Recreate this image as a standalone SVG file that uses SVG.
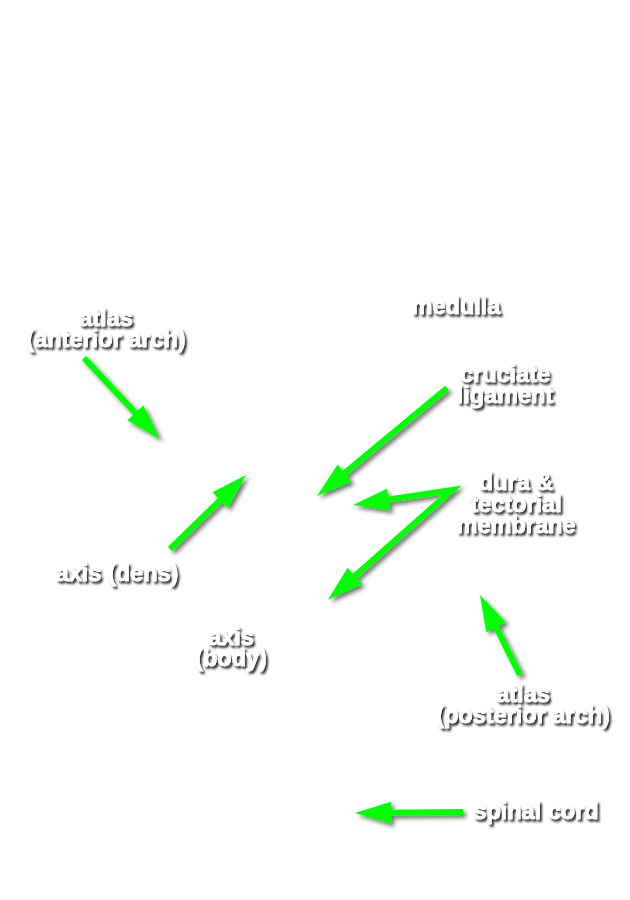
<svg xmlns="http://www.w3.org/2000/svg" width="630" height="900" viewBox="0 0 630 900">
<defs>
<style>
.lbl{font-family:"Liberation Sans",Arial,Helvetica,sans-serif;font-weight:bold;font-size:23.5px;fill:#ffffff;stroke:#ffffff;stroke-width:0.6;text-anchor:middle;filter:url(#tshadow)}
.arr{fill:none;stroke:#00ff00;stroke-width:6;stroke-linejoin:miter}
</style>
<filter id="tshadow" x="-20%" y="-40%" width="140%" height="180%">
<feDropShadow dx="2" dy="2.5" stdDeviation="1.3" flood-color="#000000" flood-opacity="0.85"/>
</filter>
<filter id="ashadow" x="-20%" y="-20%" width="140%" height="140%">
<feDropShadow dx="3" dy="3" stdDeviation="2" flood-color="#000000" flood-opacity="0.55"/>
</filter>
<marker id="head" viewBox="-10 -12 40 24" markerWidth="40" markerHeight="24" refX="0" refY="0" markerUnits="userSpaceOnUse" orient="auto-start-reverse">
<path d="M-8,-11 L28,0 L-8,11 z" fill="#00ff00"/>
</marker>
</defs>
<rect width="630" height="900" fill="#ffffff"/>
<g id="connectors" filter="url(#ashadow)">
<path class="arr" d="M84,358 L140.8,418.6" marker-end="url(#head)"/>
<path class="arr" d="M170,549 L225.9,494.5" marker-end="url(#head)"/>
<path class="arr" d="M447,388 L338.5,478.1" marker-end="url(#head)"/>
<path class="arr" d="M380.7,500.8 L452,490 L348.9,581.3" marker-start="url(#head)" marker-end="url(#head)"/>
<path class="arr" d="M520,675 L492.5,620" marker-end="url(#head)"/>
<path class="arr" d="M463,812 L383,812.8" marker-end="url(#head)"/>
</g>
<g id="medulla"><text class="lbl" x="456" y="314">medulla</text></g>
<g id="atlas-anterior"><text class="lbl" x="106" y="326">atlas</text><text class="lbl" x="106" y="347">(anterior arch)</text></g>
<g id="cruciate"><text class="lbl" x="505" y="382">cruciate</text><text class="lbl" x="505" y="403">ligament</text></g>
<g id="dura"><text class="lbl" x="516" y="490">dura &amp;</text><text class="lbl" x="516" y="512">tectorial</text><text class="lbl" x="516" y="533">membrane</text></g>
<g id="axis-dens"><text class="lbl" x="117" y="581">axis (dens)</text></g>
<g id="axis-body"><text class="lbl" x="231" y="645">axis</text><text class="lbl" x="231" y="666">(body)</text></g>
<g id="atlas-posterior"><text class="lbl" x="523" y="702">atlas</text><text class="lbl" x="523" y="723">(posterior arch)</text></g>
<g id="spinal-cord"><text class="lbl" x="536" y="819">spinal cord</text></g>
</svg>
